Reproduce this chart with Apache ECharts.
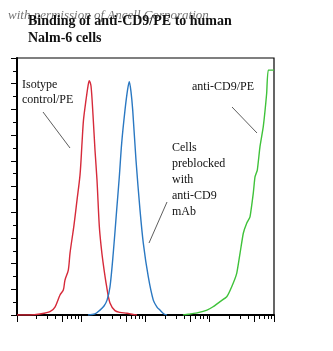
<!DOCTYPE html>
<html>
<head>
<meta charset="utf-8">
<script src="https://cdn.jsdelivr.net/npm/echarts@6/dist/echarts.min.js"></script>
<style>
  html, body { margin: 0; padding: 0; background: #fff; }
  #chart { width: 333px; height: 351px; }
</style>
</head>
<body>
<div id="chart"></div>
<script>
// Fluorescence intensity (log scale) vs. cell count, one array per histogram
const isotypeControl = [
  [1, 0], [1.59, 0], [2.28, 0.4], [3.26, 1.3], [3.9, 3.1], [4.67, 7.8], [5.26, 9.7],
  [5.58, 13.6], [6.29, 17.5], [6.68, 24.0], [7.71, 35.0], [8.59, 44.7], [9.57, 54.5],
  [10.28, 66.9], [10.84, 75.9], [11.86, 83.7], [12.74, 89.1], [13.35, 91.2], [14.19, 89.1],
  [15.24, 77.8], [16.36, 64.2], [17.58, 52.5], [19.09, 34.6], [20.29, 27.2], [21.81, 20.6],
  [24.9, 10.9], [28.0, 4.7], [33.5, 1.7], [40.1, 1.0], [51.5, 0.7], [63.9, 0.2], [73.8, 0]
];
const preblocked = [
  [12.74, 0], [16.36, 0.4], [19.58, 1.9], [22.6, 3.5], [25.2, 5.8], [28.0, 10.9],
  [31.5, 24.1], [35.6, 40.9], [39.1, 53.7], [42.6, 66.9], [48.0, 79.8], [52.5, 87.5],
  [55.9, 90.8], [59.5, 86.8], [63.2, 79.8], [71.1, 60.3], [82.1, 40.9], [92.4, 28.0],
  [110.6, 14.8], [132.2, 5.8], [151, 3.1], [168, 1.9], [194, 0.4], [216, 0]
];
const antiCD9 = [
  [383, 0], [493, 0.4], [657, 0.9], [906, 1.9], [1125, 3.2], [1445, 5.2], [1837, 7.1],
  [2197, 11.0], [2628, 16.2], [2960, 24.0], [3329, 31.8], [3760, 35.7], [4230, 38.2],
  [4760, 47.4], [5060, 53.7], [5500, 56.4], [6050, 65.5], [6810, 73.3], [7690, 86.3],
  [8150, 95.3], [10000, 95.3]
];

// Tick positions on the fluorescence axis
const majorTicks = [1, 5, 10, 50, 100, 500, 1000, 5000, 10000];
const minorTicks = [];
[1, 10, 100, 1000].forEach(d => [2, 3, 4, 6, 7, 8, 9].forEach(m => minorTicks.push(d * m)));

const titleLines = ['Binding of anti-CD9/PE to human', 'Nalm-6 cells'];
const creditText = 'with permission of Ancell Corporation';

const serif = '"Liberation Serif", "DejaVu Serif", serif';
const chart = echarts.init(document.getElementById('chart'));

const xBase = {
  type: 'log', logBase: 10, min: 1, max: 10000, gridIndex: 0,
  axisLabel: { show: false }, splitLine: { show: false }
};

chart.setOption({
  animation: false,
  backgroundColor: '#fff',
  grid: {
    left: 17, right: 59, top: 58, bottom: 36,
    show: true, borderColor: '#000', borderWidth: 1.2, backgroundColor: 'transparent'
  },
  xAxis: [
    Object.assign({}, xBase, {
      axisLine: { show: true, onZero: false, lineStyle: { color: '#000', width: 2 } },
      axisTick: { show: true, inside: false, length: 7, customValues: majorTicks, lineStyle: { color: '#000', width: 1 } }
    }),
    Object.assign({}, xBase, {
      position: 'bottom',
      axisLine: { show: false },
      axisTick: { show: true, inside: false, length: 4, customValues: minorTicks, lineStyle: { color: '#000', width: 1 } }
    })
  ],
  yAxis: {
    type: 'value', min: 0, max: 100, interval: 10,
    axisLabel: { show: false }, splitLine: { show: false },
    axisLine: { show: true, lineStyle: { color: '#000', width: 2 } },
    axisTick: { show: true, inside: false, length: 6, lineStyle: { color: '#000' } },
    minorTick: { show: true, splitNumber: 2, length: 4, lineStyle: { color: '#000' } }
  },
  series: [
    { type: 'line', data: isotypeControl, smooth: 0.3, showSymbol: false, lineStyle: { color: '#d62a3a', width: 1.4 } },
    { type: 'line', data: preblocked, smooth: 0.3, showSymbol: false, lineStyle: { color: '#2a78c2', width: 1.4 } },
    { type: 'line', data: antiCD9, smooth: 0.15, showSymbol: false, lineStyle: { color: '#3fc23a', width: 1.4 } }
  ],
  graphic: [
    { type: 'text', left: 8, top: 9, z: 1,
      style: { text: creditText, font: 'italic 13px ' + serif, fill: 'rgba(70,70,70,0.75)' } },
    { type: 'text', left: 28, top: 13, z: 2,
      style: { text: titleLines.join('\n'), font: 'bold 14px ' + serif, lineHeight: 17, fill: '#111' } },
    { type: 'text', left: 22, top: 77,
      style: { text: 'Isotype\ncontrol/PE', font: '12px ' + serif, lineHeight: 15, fill: '#111' } },
    { type: 'text', left: 192, top: 81,
      style: { text: 'anti-CD9/PE', font: '12px ' + serif, fill: '#111' } },
    { type: 'text', left: 172, top: 140,
      style: { text: 'Cells\npreblocked\nwith\nanti-CD9\nmAb', font: '12px ' + serif, lineHeight: 16, fill: '#111' } },
    { type: 'line', shape: { x1: 43, y1: 112, x2: 70, y2: 148 }, style: { stroke: '#333', lineWidth: 0.8 } },
    { type: 'line', shape: { x1: 167, y1: 202, x2: 149, y2: 243 }, style: { stroke: '#333', lineWidth: 0.8 } },
    { type: 'line', shape: { x1: 232, y1: 107, x2: 257, y2: 133 }, style: { stroke: '#333', lineWidth: 0.8 } }
  ]
});
</script>
</body>
</html>
